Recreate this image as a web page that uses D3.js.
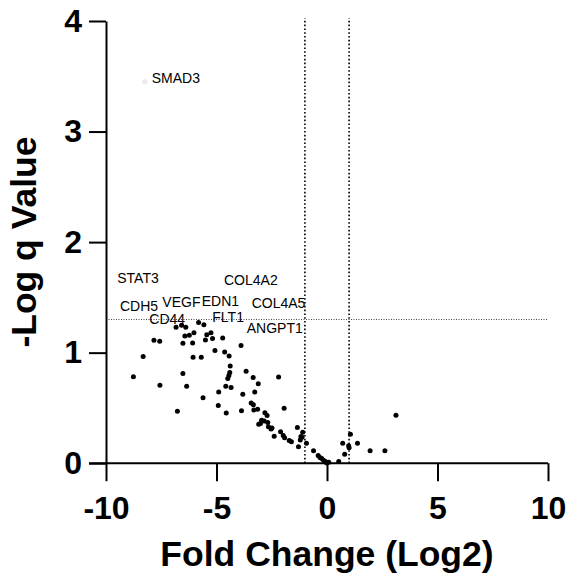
<!DOCTYPE html>
<html><head><meta charset="utf-8">
<script src="https://cdn.jsdelivr.net/npm/d3@7"></script>
<style>body{margin:0;background:#fff}svg{display:block}</style>
</head><body>
<script>
const foldChange = [-6.83,-6.58,-6.39,-5.81,-5.57,-6.43,-6.23,-6.02,-5.44,-5.25,-5.50,-5.18,-4.72,-7.83,-7.57,-6.52,-6.08,-3.89,-8.32,-6.06,-5.69,-5.07,-4.63,-4.43,-4.38,-4.40,-4.44,-4.49,-3.66,-3.34,-2.19,-8.76,-6.52,-7.56,-6.35,-4.58,-4.34,-3.11,-5.61,-4.90,-3.81,-3.27,-4.92,-4.56,-6.77,-3.87,-3.43,-3.33,-3.31,-3.14,-2.81,-2.71,-2.96,-2.84,-2.68,-3.09,-3.01,-2.65,-2.49,-2.53,-2.39,-2.10,-1.98,-1.92,-1.71,-1.61,-1.94,-1.34,-1.10,-1.18,-1.13,-1.21,-1.29,-0.93,-0.61,-0.40,-0.32,-0.24,-0.16,-0.07,0.08,0.53,0.71,0.80,0.98,1.00,1.06,1.38,1.95,2.62,3.12,-0.01];
const logQ = [1.229,1.247,1.229,1.273,1.253,1.151,1.157,1.180,1.161,1.180,1.114,1.128,1.133,1.112,1.103,1.085,1.087,1.065,0.965,0.958,0.958,1.019,1.006,0.970,0.879,0.820,0.793,0.766,0.832,0.775,0.780,0.782,0.811,0.706,0.697,0.697,0.685,0.718,0.592,0.644,0.623,0.644,0.521,0.455,0.470,0.475,0.545,0.528,0.481,0.488,0.456,0.431,0.388,0.382,0.368,0.353,0.359,0.329,0.318,0.309,0.244,0.284,0.250,0.230,0.205,0.194,0.498,0.323,0.280,0.242,0.234,0.209,0.148,0.180,0.112,0.070,0.052,0.043,0.027,0.015,0.009,0.015,0.180,0.081,0.157,0.139,0.262,0.180,0.113,0.113,0.434,0.002];
// faint highlighted point (SMAD3)
const fadedFC = [-8.24];
const fadedQ = [3.451];
const geneNames = ["SMAD3","STAT3","COL4A2","CDH5","VEGF","EDN1","COL4A5","CD44","FLT1","ANGPT1"];
const geneLabelFC = [-7.93,-9.49,-4.66,-9.37,-7.45,-5.67,-3.41,-8.04,-5.19,-3.63];
const geneLabelQ = [3.436,1.626,1.612,1.377,1.416,1.425,1.404,1.259,1.280,1.175];
const xTicks = [-10,-5,0,5,10];
const yTicks = [0,1,2,3,4];
const fcThresholds = [-1,1];
const qThreshold = 1.3;

const W = 571, H = 581;
const svg = d3.select("body").append("svg").attr("width",W).attr("height",H);
const x = d3.scaleLinear().domain([-10,10]).range([106,548]);
const y = d3.scaleLinear().domain([0,4]).range([463.2,21]);
const font = "Arial, 'Liberation Sans', Helvetica, sans-serif";

// threshold lines
svg.append("line").attr("x1",x(-10)).attr("x2",x(10)).attr("y1",y(qThreshold)).attr("y2",y(qThreshold))
  .attr("stroke","#444").attr("stroke-width",1).attr("stroke-dasharray","1,1.5");
svg.selectAll(".vl").data(fcThresholds).join("line")
  .attr("x1",d=>x(d)).attr("x2",d=>x(d)).attr("y1",y(0)).attr("y2",y(4)-3)
  .attr("stroke","#000").attr("stroke-width",1.6).attr("stroke-dasharray","1.6,2.2");

// faded point
svg.selectAll(".fp").data(fadedFC).join("circle")
  .attr("cx",d=>x(d)).attr("cy",(d,i)=>y(fadedQ[i])).attr("r",2.6).attr("fill","#ececec");

// points
svg.selectAll(".pt").data(foldChange).join("circle")
  .attr("cx",d=>x(d)).attr("cy",(d,i)=>y(logQ[i])).attr("r",2.5).attr("fill","#000");

// labels
svg.selectAll(".lb").data(geneNames).join("text")
  .attr("x",(d,i)=>x(geneLabelFC[i])).attr("y",(d,i)=>y(geneLabelQ[i]))
  .attr("font-family",font).attr("font-size",14).attr("fill","#000").text(d=>d);

// axes
const xAxis = d3.axisBottom(x).tickValues(xTicks).tickSize(18).tickSizeOuter(0).tickPadding(15).tickFormat(d3.format("d"));
const yAxis = d3.axisLeft(y).tickValues(yTicks).tickSize(17).tickSizeOuter(0).tickPadding(7).tickFormat(d3.format("d"));
const gx = svg.append("g").attr("transform",`translate(0,${y(0)})`).call(xAxis);
const gy = svg.append("g").attr("transform",`translate(${x(-10)},0)`).call(yAxis);
[gx,gy].forEach(g=>{
  g.select(".domain").attr("stroke","#000").attr("stroke-width",2);
  g.selectAll(".tick line").attr("stroke","#000").attr("stroke-width",2);
  g.selectAll(".tick text").attr("fill","#000").attr("font-family",font).attr("font-weight","bold").attr("font-size",32);
});
gx.selectAll(".tick text").text(d=>d<0?"-"+Math.abs(d):d);
gy.selectAll(".tick text").text(d=>d<0?"-"+Math.abs(d):d);
// extend x axis line to meet y tick
gx.select(".domain").attr("d",`M${x(-10)-17},0H${x(10)}`);

svg.append("text").attr("x",(x(-10)+x(10))/2).attr("y",566).attr("text-anchor","middle")
  .attr("font-family",font).attr("font-weight","bold").attr("font-size",35.5).text("Fold Change (Log2)");
svg.append("text").attr("transform",`translate(36,${(y(0)+y(4))/2}) rotate(-90)`).attr("text-anchor","middle")
  .attr("font-family",font).attr("font-weight","bold").attr("font-size",35.5).text("-Log q Value");
</script>
</body></html>
